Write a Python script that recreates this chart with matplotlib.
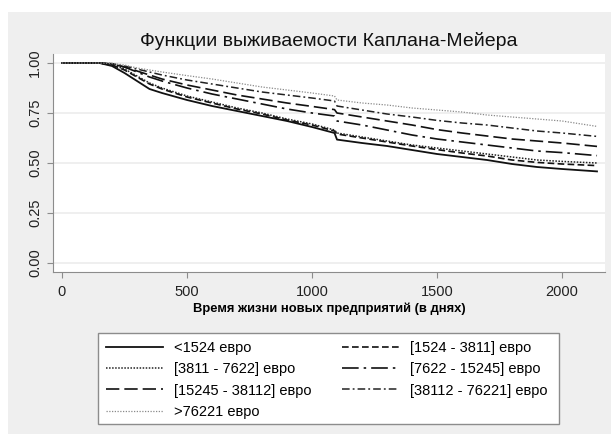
import matplotlib

matplotlib.use("Agg")
import matplotlib.pyplot as plt
from matplotlib.patches import Rectangle

plt.rcParams["font.family"] = ["Liberation Sans", "DejaVu Sans"]

# Survival estimates (days -> S(t)).
days = [0, 150, 200, 250, 300, 350, 400, 500, 600, 700, 800, 900, 1000,
        1090, 1100, 1200, 1300, 1400, 1500, 1600, 1700, 1800, 1900, 2000, 2140]

s_lt1524 = [1, 1, 0.985, 0.95, 0.91, 0.87, 0.85, 0.815, 0.785, 0.76, 0.735, 0.71, 0.68,
            0.65, 0.617, 0.60, 0.585, 0.565, 0.545, 0.53, 0.515, 0.495, 0.48, 0.47, 0.458]
s_1524_3811 = [1, 1, 0.99, 0.965, 0.93, 0.895, 0.87, 0.83, 0.80, 0.77, 0.745, 0.715, 0.69,
               0.66, 0.645, 0.625, 0.605, 0.585, 0.567, 0.55, 0.535, 0.515, 0.503, 0.495, 0.487]
s_3811_7622 = [1, 1, 0.99, 0.97, 0.935, 0.90, 0.875, 0.835, 0.805, 0.775, 0.75, 0.72, 0.695,
               0.665, 0.65, 0.63, 0.61, 0.59, 0.575, 0.56, 0.545, 0.53, 0.515, 0.508, 0.50]
s_7622_15245 = [1, 1, 0.995, 0.98, 0.955, 0.93, 0.91, 0.875, 0.845, 0.82, 0.795, 0.77, 0.75,
                0.735, 0.71, 0.69, 0.665, 0.64, 0.62, 0.605, 0.59, 0.575, 0.56, 0.552, 0.537]
s_15245_38112 = [1, 1, 0.995, 0.98, 0.96, 0.94, 0.92, 0.89, 0.865, 0.84, 0.82, 0.80, 0.783,
                 0.767, 0.75, 0.73, 0.71, 0.69, 0.667, 0.65, 0.635, 0.62, 0.61, 0.60, 0.583]
s_38112_76221 = [1, 1, 0.997, 0.985, 0.97, 0.955, 0.94, 0.915, 0.895, 0.875, 0.855, 0.84, 0.825,
                 0.81, 0.785, 0.765, 0.745, 0.73, 0.713, 0.70, 0.69, 0.675, 0.66, 0.65, 0.633]
s_gt76221 = [1, 1, 0.998, 0.99, 0.975, 0.965, 0.955, 0.937, 0.92, 0.90, 0.88, 0.865, 0.85,
             0.835, 0.815, 0.80, 0.79, 0.775, 0.765, 0.755, 0.74, 0.73, 0.72, 0.71, 0.683]

labels = ["<1524 евро", "[1524 - 3811] евро", "[3811 - 7622] евро", "[7622 - 15245] евро",
          "[15245 - 38112] евро", "[38112 - 76221] евро", ">76221 евро"]
series = [s_lt1524, s_1524_3811, s_3811_7622, s_7622_15245, s_15245_38112, s_38112_76221, s_gt76221]

styles = [
    {"ls": "-", "color": "#111111", "lw": 1.3},
    {"ls": (0, (4, 2)), "color": "#111111", "lw": 1.2},
    {"ls": (0, (1, 1)), "color": "#222222", "lw": 1.1},
    {"ls": (0, (10, 3, 1.5, 3)), "color": "#111111", "lw": 1.2},
    {"ls": (0, (8, 3)), "color": "#111111", "lw": 1.2},
    {"ls": (0, (5, 2, 1.2, 2)), "color": "#222222", "lw": 1.1},
    {"ls": (0, (1, 1.2)), "color": "#8a8a8a", "lw": 0.9},
]

fig = plt.figure(figsize=(6.11, 4.34), dpi=100, facecolor="white")
fig.patches.append(Rectangle((8 / 611, 0), 1, 1 - 12 / 434, transform=fig.transFigure,
                             facecolor="#efefef", edgecolor="none", zorder=-10))

ax = fig.add_axes([53 / 611, 1 - 272 / 434, 552 / 611, 218 / 434])
ax.set_facecolor("white")

handles = []
for vals, lab, st in zip(series, labels, styles):
    (h,) = ax.plot(days, vals, linestyle=st["ls"], color=st["color"], linewidth=st["lw"], label=lab)
    handles.append(h)

ax.set_xlim(-36, 2172)
ax.set_ylim(-0.045, 1.045)
ax.set_xticks([0, 500, 1000, 1500, 2000])
ax.set_yticks([0, 0.25, 0.5, 0.75, 1.0])
ax.set_yticklabels(["0.00", "0.25", "0.50", "0.75", "1.00"], rotation=90, va="center")
ax.grid(axis="y", color="#ececec", linewidth=1.2)
ax.set_axisbelow(True)
for side in ("top", "right"):
    ax.spines[side].set_visible(False)
for side in ("left", "bottom"):
    ax.spines[side].set_color("#8c8c8c")
ax.tick_params(colors="#8c8c8c", labelcolor="#222222", labelsize=10.5, length=4)
ax.tick_params(axis="y", pad=4)
ax.tick_params(axis="x", pad=5)

ax.set_title("Функции выживаемости Каплана-Мейера", fontsize=14, color="#111111", pad=6)
ax.set_xlabel("Время жизни новых предприятий (в днях)", fontsize=9.4, weight="bold", labelpad=3)

# Legend frame drawn separately so the columns keep their natural spacing.
fig.patches.append(Rectangle((98 / 611, 1 - 424 / 434), 461 / 611, 91 / 434,
                             transform=fig.transFigure, facecolor="white",
                             edgecolor="#8c8c8c", linewidth=1.0, zorder=1))

# Row-wise legend order in two columns.
order = [0, 2, 4, 6, 1, 3, 5]
leg = fig.legend([handles[i] for i in order], [labels[i] for i in order],
                 loc="upper left", bbox_to_anchor=(98 / 611, 1 - 333 / 434),
                 borderaxespad=0, ncol=2, fontsize=10.5, handlelength=3.9, labelspacing=0.5,
                 handletextpad=0.75, columnspacing=2.1, frameon=False, borderpad=0.55)
leg.set_zorder(2)

fig.savefig("out.png", dpi=100)
